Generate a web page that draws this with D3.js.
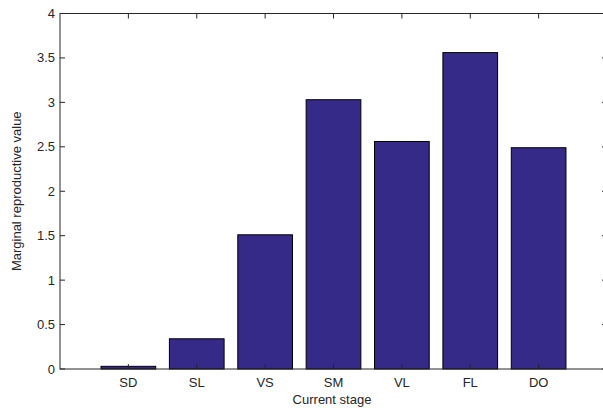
<!DOCTYPE html>
<html>
<head>
<meta charset="utf-8">
<script src="https://cdn.jsdelivr.net/npm/d3@7"></script>
<style>
  html, body { margin: 0; background: #fff; overflow: hidden; }
  svg { display: block; overflow: hidden; }
  text { font-family: "Liberation Sans", Arial, sans-serif; fill: #262626; }
</style>
</head>
<body>
<div id="chart"></div>
<script>
  const stages = ['SD', 'SL', 'VS', 'SM', 'VL', 'FL', 'DO'];
  const values = [0.03, 0.34, 1.51, 3.03, 2.56, 3.56, 2.49];
  const yTicks = [0, 0.5, 1, 1.5, 2, 2.5, 3, 3.5, 4];

  (function() {
    const width = 603;
    const height = 408;
    const plotL = 60, plotR = 607, plotT = 13.5, plotB = 369;
    const tickLen = 5;
    const axisColor = '#262626';

    const svg = d3.select('#chart')
      .append('svg')
      .attr('width', width)
      .attr('height', height);

    const x = d3.scaleLinear().domain([0, stages.length + 1]).range([plotL, plotR]);
    const y = d3.scaleLinear().domain([0, 4]).range([plotB, plotT]);
    const barW = (x(1) - x(0)) * 0.8;

    // bars
    svg.selectAll('.bar')
      .data(values)
      .enter().append('rect')
      .attr('class', 'bar')
      .attr('x', (d, i) => x(i + 1) - barW / 2)
      .attr('y', d => y(d))
      .attr('width', barW)
      .attr('height', d => y(0) - y(d))
      .attr('fill', '#352a87')
      .attr('stroke', '#000')
      .attr('stroke-width', 1);

    // box (right edge falls just outside the picture, as in the original)
    svg.append('rect')
      .attr('x', plotL).attr('y', plotT)
      .attr('width', plotR - plotL).attr('height', plotB - plotT)
      .attr('fill', 'none')
      .attr('stroke', axisColor)
      .attr('stroke-width', 1);

    // x ticks, bottom and top, pointing inward
    const xt = svg.append('g').attr('stroke', axisColor);
    stages.forEach((s, i) => {
      xt.append('line')
        .attr('x1', x(i + 1)).attr('x2', x(i + 1))
        .attr('y1', plotB).attr('y2', plotB - tickLen);
      xt.append('line')
        .attr('x1', x(i + 1)).attr('x2', x(i + 1))
        .attr('y1', plotT).attr('y2', plotT + tickLen);
    });

    svg.append('g').selectAll('text')
      .data(stages)
      .enter().append('text')
      .attr('x', (d, i) => x(i + 1))
      .attr('y', plotB + 18)
      .attr('text-anchor', 'middle')
      .attr('font-size', 13)
      .text(d => d);

    // y ticks, left and right
    const yt = svg.append('g').attr('stroke', axisColor);
    yTicks.forEach(t => {
      yt.append('line')
        .attr('x1', plotL).attr('x2', plotL + tickLen)
        .attr('y1', y(t)).attr('y2', y(t));
      yt.append('line')
        .attr('x1', plotR).attr('x2', plotR - tickLen)
        .attr('y1', y(t)).attr('y2', y(t));
    });

    svg.append('g').selectAll('text')
      .data(yTicks)
      .enter().append('text')
      .attr('x', plotL - 5)
      .attr('y', d => y(d))
      .attr('dy', '0.35em')
      .attr('text-anchor', 'end')
      .attr('font-size', 13)
      .text(d => String(d));

    // axis labels
    svg.append('text')
      .attr('x', 332)
      .attr('y', 404)
      .attr('text-anchor', 'middle')
      .attr('font-size', 13)
      .text('Current stage');

    svg.append('text')
      .attr('transform', `translate(21, ${(plotT + plotB) / 2}) rotate(-90)`)
      .attr('text-anchor', 'middle')
      .attr('font-size', 13)
      .text('Marginal reproductive value');
  })();
</script>
</body>
</html>
